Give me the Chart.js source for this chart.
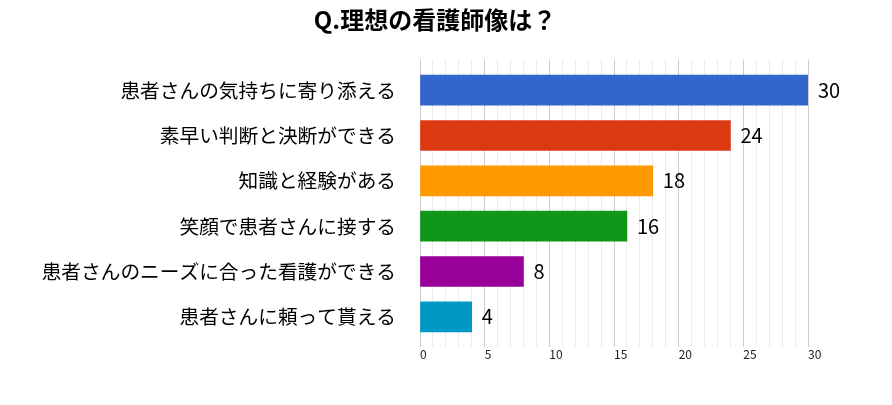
<!DOCTYPE html>
<html>
<head>
<meta charset="utf-8">
<script src="https://cdn.jsdelivr.net/npm/chart.js@4"></script>
<style>
  html, body { margin: 0; padding: 0; background: #fff; }
  #wrap { width: 892px; height: 405px; }
</style>
</head>
<body>
<div id="wrap"><canvas id="chart"></canvas></div>
<script>
// Data
const categories = [
    '患者さんの気持ちに寄り添える',
    '素早い判断と決断ができる',
    '知識と経験がある',
    '笑顔で患者さんに接する',
    '患者さんのニーズに合った看護ができる',
    '患者さんに頼って貰える'
];
const counts = [30, 24, 18, 16, 8, 4];
const barColors = ['#3366CC', '#DC3912', '#FF9900', '#109618', '#990099', '#0099C6'];
const axisMax = 30;
const majorStep = 5;

const FONT = '"Noto Sans CJK JP", "Noto Sans", sans-serif';

// grid colour: darker every 5, light for the minor lines
function gridColor(ctx) {
    return ctx.tick && ctx.tick.value % majorStep === 0 ? '#cccccc' : '#ebebeb';
}

// value labels at the end of each bar
const valueLabels = {
    id: 'valueLabels',
    afterDatasetsDraw(chart) {
        const ctx = chart.ctx;
        const meta = chart.getDatasetMeta(0);
        ctx.save();
        ctx.font = '20px ' + FONT;
        ctx.fillStyle = '#000';
        ctx.textAlign = 'left';
        ctx.textBaseline = 'middle';
        meta.data.forEach((bar, i) => {
            ctx.fillText(String(counts[i]), bar.x + 10, bar.y);
        });
        ctx.restore();
    }
};

new Chart(document.getElementById('chart'), {
    type: 'bar',
    data: {
        labels: categories,
        datasets: [{
            data: counts,
            backgroundColor: barColors,
            borderWidth: 0,
            barThickness: 30
        }]
    },
    options: {
        indexAxis: 'y',
        responsive: true,
        maintainAspectRatio: false,
        animation: false,
        layout: {
            padding: { left: 20, right: 42, top: 0, bottom: 43.6 }
        },
        plugins: {
            legend: { display: false },
            tooltip: { enabled: false },
            title: {
                display: true,
                text: 'Q.理想の看護師像は？',
                color: '#000',
                font: { family: FONT, size: 24, weight: 'bold' },
                padding: { top: 5.6, bottom: 25.1 }
            }
        },
        scales: {
            x: {
                position: 'bottom',
                min: 0,
                max: axisMax,
                border: { display: false },
                grid: {
                    color: gridColor,
                    drawTicks: true,
                    tickLength: 7.5
                },
                ticks: {
                    stepSize: 1,
                    maxTicksLimit: 100,
                    autoSkip: false,
                    maxRotation: 0,
                    align: 'start',
                    padding: 0,
                    color: '#222',
                    font: { family: FONT, size: 12 },
                    callback: (v) => (v % majorStep === 0 ? String(v) : '')
                }
            },
            xTop: {
                position: 'top',
                axis: 'x',
                min: 0,
                max: axisMax,
                border: { display: false },
                grid: {
                    color: gridColor,
                    drawOnChartArea: false,
                    drawTicks: true,
                    tickLength: 8
                },
                ticks: {
                    display: false,
                    stepSize: 1,
                    maxTicksLimit: 100,
                    autoSkip: false
                }
            },
            y: {
                border: { display: false },
                grid: { display: false, drawTicks: false },
                afterFit(scale) { scale.width = 400; },
                ticks: {
                    padding: 24,
                    color: '#000',
                    font: { family: FONT, size: 19.7 }
                }
            },
            // empty space on the right for the value labels
            yRight: {
                position: 'right',
                axis: 'y',
                border: { display: false },
                grid: { display: false, drawTicks: false },
                ticks: { display: false },
                afterFit(scale) { scale.width = 42; }
            }
        }
    },
    plugins: [valueLabels]
});
</script>
</body>
</html>
